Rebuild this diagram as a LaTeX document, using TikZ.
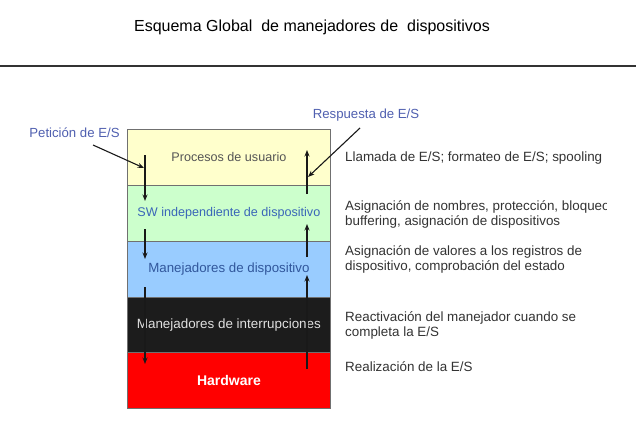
\documentclass[tikz,border=0pt]{standalone}
\usepackage{fontspec}
\setmainfont{Liberation Sans}
\usetikzlibrary{arrows.meta}
\definecolor{lyellow}{HTML}{FFFFCC}
\definecolor{lgreen}{HTML}{CCFFCC}
\definecolor{lblue}{HTML}{99CCFF}
\definecolor{dblack}{HTML}{1C1C1C}
\definecolor{hred}{HTML}{FF0000}
\definecolor{labblue}{HTML}{5060B0}
\definecolor{txtblue}{HTML}{3A66B8}
\definecolor{txtgray}{HTML}{555555}
\definecolor{boxline}{HTML}{707070}
\tikzset{
  layer/.style={draw=boxline, line width=0.8pt, minimum width=203pt, minimum height=56pt, inner sep=0pt, anchor=north west},
  flow/.style={line width=1.2pt, draw=black!90, -{Stealth[length=6.5pt,width=5pt]}},
  pointer/.style={line width=1.1pt, draw=black!90, -{Stealth[length=6.5pt,width=5pt]}},
  desc/.style={anchor=west, align=left, inner sep=0pt, text=black!80, font=\fontsize{13.4}{15}\selectfont},
  tag/.style={text=labblue, inner sep=0pt, font=\fontsize{13.2}{15}\selectfont}
}
\begin{document}
\begin{tikzpicture}[x=1pt,y=-1pt]
\useasboundingbox (0,0) rectangle (636,442);
\fill[white] (0,0) rectangle (636,442);
% title
\node (title) at (312,27) {\fontsize{16}{19}\selectfont Esquema Global\ \ de manejadores de\ \ dispositivos};
\draw[line width=1.2pt, black!80] (0,66) -- (636,66);
% layers
\node[layer, fill=lyellow, text=txtgray, font=\fontsize{12.6}{14}\selectfont] (l1) at (127,129) {Procesos de usuario};
\node[layer, fill=lgreen, text=txtblue, font=\fontsize{12.6}{14}\selectfont] (l2) at (127,185) {SW independiente de dispositivo};
\node[layer, fill=lblue, text=txtblue!85!black, font=\fontsize{13.3}{15}\selectfont] (l3) at (127,241) {Manejadores de dispositivo};
\node[layer, fill=dblack, text=black!12, font=\fontsize{13.4}{15}\selectfont] (l4) at (127,297) {Manejadores de interrupciones};
\node[layer, fill=hred, text=white, font=\fontsize{14}{16}\selectfont\bfseries] (l5) at (127,352) {Hardware};
% down flow (left)
\coordinate (d1a) at (145,155); \coordinate (d1b) at (145,201);
\coordinate (d2a) at (145,229); \coordinate (d2b) at (145,259);
\coordinate (d3a) at (145,287); \coordinate (d3b) at (145,364);
\draw[flow] (d1a) -- (d1b);
\draw[flow] (d2a) -- (d2b);
\draw[flow] (d3a) -- (d3b);
% up flow (right)
\coordinate (u1a) at (307,194); \coordinate (u1b) at (307,150);
\coordinate (u2a) at (307,257); \coordinate (u2b) at (307,224);
\coordinate (u3a) at (307,369); \coordinate (u3b) at (307,275);
\draw[flow] (u1a) -- (u1b);
\draw[flow] (u2a) -- (u2b);
\draw[flow] (u3a) -- (u3b);
% pointers
\node[tag] (pet) at (74.5,133) {Petición de E/S};
\node[tag] (res) at (366,115) {Respuesta de E/S};
\coordinate (pet0) at (93,145); \coordinate (pet1) at (144,168);
\coordinate (res0) at (360,128); \coordinate (res1) at (308,177);
\draw[pointer] (pet0) -- (pet1);
\draw[pointer] (res0) -- (res1);
% descriptions
\node[desc] (t1) at (345,158) {Llamada de E/S; formateo de E/S; spooling};
\begin{scope}
\clip (340,190) rectangle (606,235);
\node[desc] (t2) at (345,214.5) {Asignación de nombres, protección, bloqueo\\buffering, asignación de dispositivos};
\end{scope}
\node[desc] (t3) at (345,259.5) {Asignación de valores a los registros de\\dispositivo, comprobación del estado};
\node[desc] (t4) at (345,325.5) {Reactivación del manejador cuando se\\completa la E/S};
\node[desc] (t5) at (345,367) {Realización de la E/S};
\end{tikzpicture}
\end{document}
